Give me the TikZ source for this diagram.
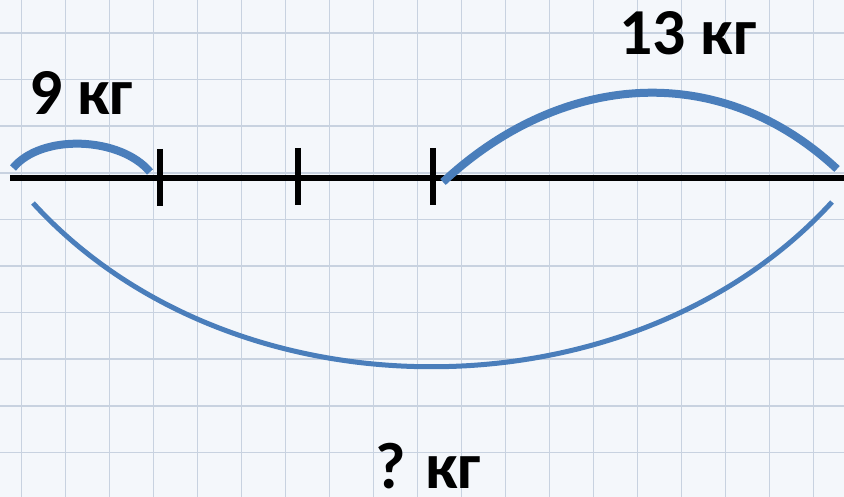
\documentclass[tikz,border=0pt]{standalone}
\usepackage{fontspec}
\setmainfont{Carlito}
\usetikzlibrary{positioning}
\definecolor{PaperBg}{RGB}{244,247,251}
\definecolor{GridLine}{RGB}{200,210,224}
\definecolor{ArcBlue}{RGB}{74,126,187}

\begin{document}
\begin{tikzpicture}[
    x=0.3mm, y=-0.3mm,
    gridline/.style={draw=GridLine, line width=0.45mm},
    axisline/.style={draw=black, line width=1.8mm},
    tickmark/.style={draw=black, line width=1.8mm},
    partarc/.style={draw=ArcBlue, line width=2.4mm},
    wholearc/.style={draw=ArcBlue, line width=1.5mm},
    kglabel/.style={font=\fontsize{56}{64}\selectfont\bfseries, inner sep=0pt},
  ]
  % squared paper
  \fill[PaperBg] (0,0) rectangle (844,497);
  \useasboundingbox (0,0) rectangle (844,497);
  \foreach \i in {0,...,18}
    \draw[gridline] ({21.5+44*\i},0) -- ({21.5+44*\i},497);
  \foreach \j in {0,...,9}
    \draw[gridline] (0,{33+46.6*\j}) -- (844,{33+46.6*\j});

  % segment with marks
  \coordinate (lineL) at (10,178);
  \coordinate (lineR) at (844,178);
  \draw[axisline] (lineL) -- (lineR);
  \coordinate (markA) at (160,178);
  \coordinate (markB) at (298,177);
  \coordinate (markC) at (433,177);
  \foreach \m in {markA,markB,markC}
    \draw[tickmark] ([yshift=29*0.3mm]\m) -- ([yshift=-28*0.3mm]\m);

  % 9 kg
  \coordinate (smallL) at (13,168);
  \coordinate (smallR) at (150,172);
  \draw[partarc] (smallL) .. controls (42,133) and (121,137) .. (smallR);
  \node[kglabel] (nine) at (81,93) {9 кг};

  % 13 kg
  \coordinate (bigL) at (443,182);
  \coordinate (bigR) at (837,169);
  \draw[partarc] (bigL) .. controls (561,72) and (719,59) .. (bigR);
  \node[kglabel] (thirteen) at (688,33) {13 кг};

  % ? kg
  \coordinate (wholeL) at (33,203);
  \coordinate (wholeR) at (832,202);
  \draw[wholearc] (wholeL) .. controls (233,422) and (632,421) .. (wholeR);
  \node[kglabel] (total) at (428,466) {? кг};
\end{tikzpicture}
\end{document}
